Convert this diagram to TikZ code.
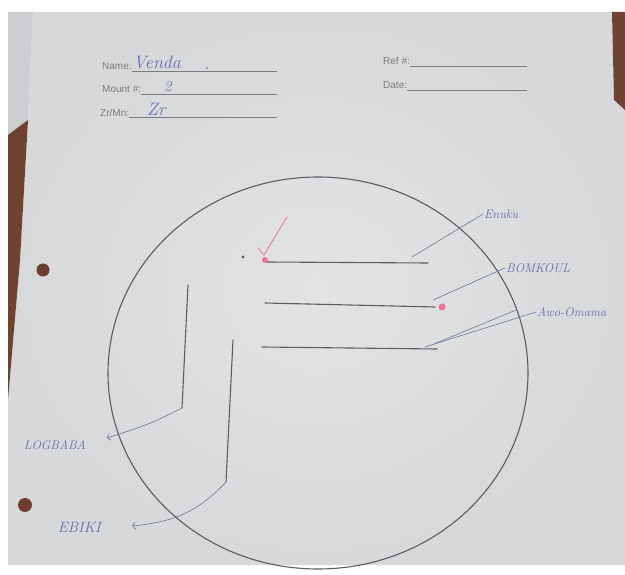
\documentclass[tikz,border=0pt]{standalone}
\usepackage{fontspec}
\newfontfamily\formfont{Liberation Sans}
\usetikzlibrary{positioning,arrows.meta}

\definecolor{paper}{RGB}{226,228,228}
\definecolor{paperdark}{RGB}{214,216,217}
\definecolor{backsheet}{RGB}{206,206,210}
\definecolor{tablebrown}{RGB}{112,66,50}
\definecolor{formgray}{RGB}{125,125,128}
\definecolor{pencil}{RGB}{92,92,98}
\definecolor{penblue}{RGB}{105,108,175}
\definecolor{markpink}{RGB}{240,112,160}
\definecolor{holebrown}{RGB}{110,62,50}

\begin{document}
\begin{tikzpicture}[
    x=1pt, y=-1pt,
    formtext/.style={font=\formfont\fontsize{10}{12}\selectfont, text=formgray, inner sep=0pt, anchor=base west},
    formline/.style={draw=formgray, line width=0.6pt},
    penhead/.style={font=\fontsize{18}{20}\selectfont\itshape, text=penblue, inner sep=0pt, anchor=base west},
    pen/.style={font=\fontsize{12.5}{14}\selectfont\itshape, text=penblue, inner sep=1pt},
    grain/.style={draw=pencil, line width=1.1pt, line cap=round},
    leader/.style={draw=penblue!55!gray, line width=0.6pt},
    mount/.style={draw=pencil, line width=1.1pt},
    hole/.style={fill=holebrown}
]
\useasboundingbox (0,0) rectangle (625,575);

% sheet on the table
\fill[white] (0,0) rectangle (625,575);
\shade[inner color=paper, outer color=paperdark]
  (33,12) -- (612,12) -- (614,100) -- (625,110) -- (625,565) -- (8,565)
  -- (8,400) -- (20,260) -- (28,120) -- cycle;
\fill[backsheet] (8,12) -- (33,12) -- (28,120) -- (8,135) -- cycle;
\fill[tablebrown] (8,135) -- (28,120) -- (20,260) -- (8,400) -- cycle;
\fill[tablebrown] (612,12) -- (625,12) -- (625,110) -- (614,100) -- cycle;
\fill[hole] (43,270) circle (6.5pt);
\fill[hole] (25,505) circle (7pt);

% form header
\node[formtext] (namelab) at (102,70) {Name:};
\node[formtext] (mountlab) at (102,93) {Mount \#:};
\node[formtext] (zrmnlab) at (100,116.5) {Zr/Mn:};
\node[formtext] (reflab) at (383,65) {Ref \#:};
\node[formtext] (datelab) at (383,89) {Date:};
\foreach \lab/\xend in {namelab/277, mountlab/277, zrmnlab/277, reflab/527, datelab/527}{
  \coordinate (\lab end) at (\xend, 0 |- \lab.base);
  \draw[formline] ([yshift=-1pt]\lab.base east) -- ([yshift=-1pt]\lab end);
}
\node[penhead] (name) at (133,69) {Venda};
\node[penhead] at (204,70) (namedot) {.};
\node[penhead, font=\fontsize{15}{17}\selectfont\itshape] (mountno) at (164,92) {2};
\node[penhead] (zrmn) at (147,116) {Zr};

% mount outline
\draw[mount] (318,373) ellipse [x radius=210pt, y radius=196pt];

% grains
\foreach \i/\xa/\ya/\xb/\yb in {%
  1/267/262/428/263, 2/265/303/435/307, 3/262/347/437/349,%
  4/188/285/182/408, 5/233/340/226/482}{
  \coordinate (g\i a) at (\xa,\ya);
  \coordinate (g\i b) at (\xb,\yb);
  \draw[grain] (g\i a) -- (g\i b);
}
\fill[pencil] (243,257) circle (1.6pt);
\fill[markpink] (265,260) circle (3pt);
\fill[markpink] (442,307) circle (3.5pt);
\draw[markpink, line width=0.8pt, line cap=round] (258,248) -- (264,255) -- (287,217);

% labels
\node[pen, anchor=west] (enuku) at (483,214) {Enuku};
\node[pen, anchor=west] (bomkoul) at (505,268) {BOMKOUL};
\node[pen, anchor=west] (awo) at (536,312) {Awo-Omama};
\coordinate (enukufoot) at (412,257);
\coordinate (bomkoulfoot) at (433,300);
\coordinate (awofoot) at (425,347);
\coordinate (awofoot2) at (434,344);
\draw[leader] (enukufoot) -- (enuku.west);
\draw[leader] (bomkoulfoot) -- (bomkoul.west);
\draw[leader] (awofoot) -- (awo.west);
\draw[leader] (awofoot2) -- ([xshift=-20pt,yshift=2pt]awo.west);

\coordinate (logtip) at (107,438);
\coordinate (ebikitip) at (132,526);
\node[pen, left=20pt of logtip, yshift=-7pt] (logbaba) {LOGBABA};
\node[pen, left=30pt of ebikitip, yshift=-1pt, font=\fontsize{15}{17}\selectfont\itshape] (ebiki) {EBIKI};
\draw[leader, -{Straight Barb[length=3pt, width=7pt]}]
  (g4b) .. controls (150,424) .. (logtip);
\draw[leader, -{Straight Barb[length=3pt, width=7pt]}]
  (g5b) .. controls (195,515) and (170,522) .. (ebikitip);

\end{tikzpicture}
\end{document}
